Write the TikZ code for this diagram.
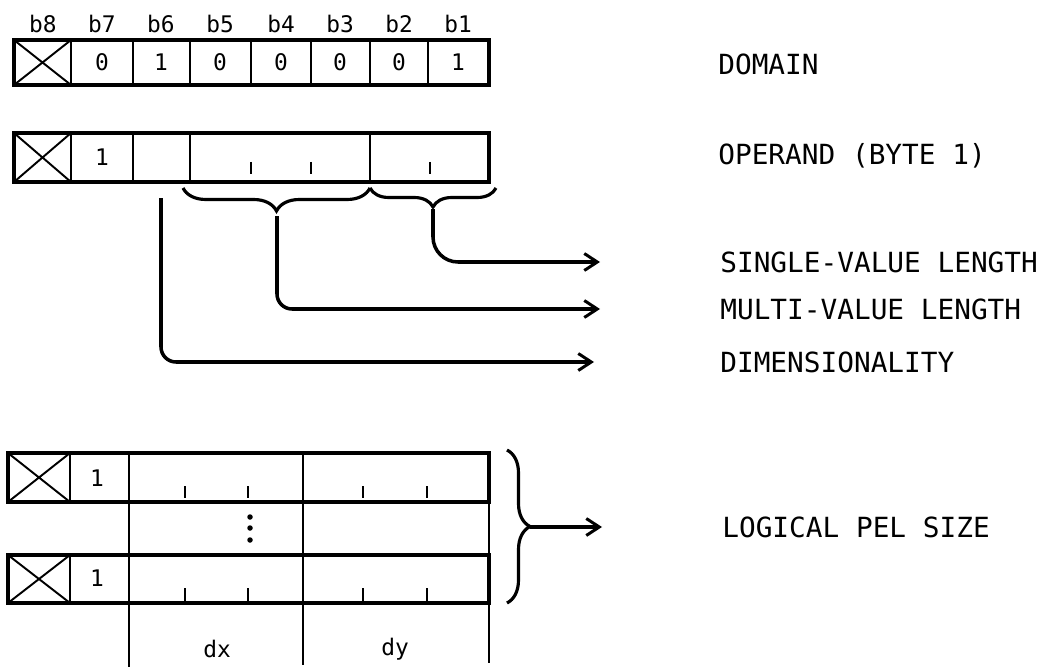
\documentclass[tikz,border=0pt]{standalone}
\usepackage{fontspec}
\setmonofont{DejaVu Sans Mono}
\usetikzlibrary{arrows.meta,decorations.pathreplacing}
\begin{document}
\begin{tikzpicture}[x=0.02cm,y=-0.02cm]

\tikzset{rowbox/.style={draw=black, line width=2pt}}
\tikzset{divline/.style={draw=black, line width=1.2pt}}
\tikzset{crossline/.style={draw=black, line width=1.1pt}}
\tikzset{bitmark/.style={draw=black, line width=1.1pt}}
\tikzset{bitlabel/.style={font=\ttfamily\fontsize{13}{15}\selectfont, inner sep=0pt, text=black}}
\tikzset{fieldlabel/.style={font=\ttfamily\fontsize{15.8}{18}\selectfont, anchor=west, inner sep=0pt, text=black}}
\tikzset{conn/.style={draw=black, line width=2pt, rounded corners=3mm, -{Straight Barb[length=2.6mm,width=3.4mm,line width=1.7pt]}}}
\tikzset{fieldbrace/.style={draw=black, line width=1.8pt, decorate, decoration={brace, amplitude=#1}}}

\useasboundingbox (0,0) rectangle (1045,669);

% bit numbers
\node[bitlabel] (nb8) at (43,24) {b8};
\node[bitlabel] (nb7) at (102,24) {b7};
\node[bitlabel] (nb6) at (161,24) {b6};
\node[bitlabel] (nb5) at (220,24) {b5};
\node[bitlabel] (nb4) at (281,24) {b4};
\node[bitlabel] (nb3) at (340,24) {b3};
\node[bitlabel] (nb2) at (399,24) {b2};
\node[bitlabel] (nb1) at (458,24) {b1};

% domain byte
\draw[rowbox] (14,40) rectangle (489,85);
\draw[crossline] (14,40) -- (71,85) (14,85) -- (71,40);
\draw[divline] (71,40) -- (71,85);
\draw[divline] (133,40) -- (133,85);
\draw[divline] (190,40) -- (190,85);
\draw[divline] (251,40) -- (251,85);
\draw[divline] (311,40) -- (311,85);
\draw[divline] (370,40) -- (370,85);
\draw[divline] (428,40) -- (428,85);
\node[bitlabel] (domb7) at (102,62) {0};
\node[bitlabel] (domb6) at (161,62) {1};
\node[bitlabel] (domb5) at (220,62) {0};
\node[bitlabel] (domb4) at (281,62) {0};
\node[bitlabel] (domb3) at (340,62) {0};
\node[bitlabel] (domb2) at (399,62) {0};
\node[bitlabel] (domb1) at (458,62) {1};
\node[fieldlabel] (domain) at (718,64) {DOMAIN};

% operand byte 1
\draw[rowbox] (14,133) rectangle (489,182);
\draw[crossline] (14,133) -- (71,182) (14,182) -- (71,133);
\draw[divline] (71,133) -- (71,182);
\draw[divline] (133,133) -- (133,182);
\draw[divline] (190,133) -- (190,182);
\draw[divline] (370,133) -- (370,182);
\draw[bitmark] (251,162) -- (251,174);
\draw[bitmark] (311,162) -- (311,174);
\draw[bitmark] (430,162) -- (430,174);
\node[bitlabel] (opb7) at (102,157) {1};
\node[fieldlabel] (operand) at (718,156) {OPERAND (BYTE 1)};

% braces and arrows
\draw[fieldbrace=0.46cm] (370,188) -- (183,188);
\draw[fieldbrace=0.38cm] (496,188) -- (370,188);
\coordinate (svtip) at (433,209);
\coordinate (mvtip) at (277,216);
\coordinate (dimtip) at (161,198);
\coordinate (svend) at (600,262);
\coordinate (mvend) at (600,309);
\coordinate (dimend) at (594,362);
\draw[conn, rounded corners=5mm] (svtip) |- (svend);
\draw[conn] (mvtip) |- (mvend);
\draw[conn] (dimtip) |- (dimend);
\node[fieldlabel] (single) at (720,262) {SINGLE-VALUE LENGTH};
\node[fieldlabel] (multi) at (720,309) {MULTI-VALUE LENGTH};
\node[fieldlabel] (dimens) at (720,362) {DIMENSIONALITY};

% logical pel size
\draw[rowbox] (8,453) rectangle (489,502);
\draw[crossline] (8,453) -- (70,502) (8,502) -- (70,453);
\draw[divline] (70,453) -- (70,502);
\draw[rowbox] (8,555) rectangle (489,603);
\draw[crossline] (8,555) -- (70,603) (8,603) -- (70,555);
\draw[divline] (70,555) -- (70,603);
\draw[divline] (129,453) -- (129,667);
\draw[divline] (303,453) -- (303,665);
\draw[divline] (489,502) -- (489,555);
\draw[divline] (489,603) -- (489,663);
\draw[bitmark] (185,486) -- (185,498);
\draw[bitmark] (248,486) -- (248,498);
\draw[bitmark] (363,486) -- (363,498);
\draw[bitmark] (427,486) -- (427,498);
\draw[bitmark] (185,588) -- (185,601);
\draw[bitmark] (248,588) -- (248,601);
\draw[bitmark] (363,588) -- (363,601);
\draw[bitmark] (427,588) -- (427,601);
\fill (250,517) circle (0.055cm);
\fill (250,528) circle (0.055cm);
\fill (250,540) circle (0.055cm);
\node[bitlabel] (pela) at (97,478) {1};
\node[bitlabel] (pelb) at (97,578) {1};
\node[bitlabel, anchor=base] (dx) at (217,657) {dx};
\node[bitlabel, anchor=base] (dy) at (395,655) {dy};
\draw[fieldbrace=0.46cm] (507,450) -- (507,603);
\coordinate (peltip) at (530,527);
\coordinate (pelend) at (602,527);
\draw[conn] (peltip) -- (pelend);
\node[fieldlabel] (pelsize) at (722,527) {LOGICAL PEL SIZE};

\end{tikzpicture}
\end{document}
